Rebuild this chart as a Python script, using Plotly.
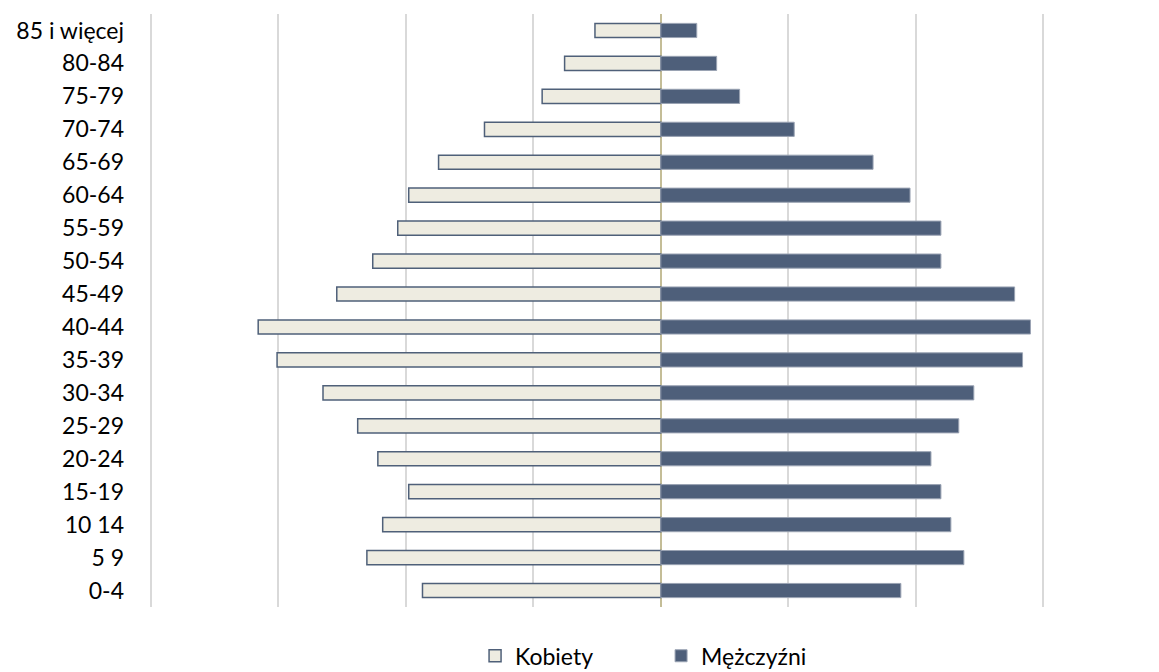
import plotly.graph_objects as go

age_groups = ["0-4", "5 9", "10 14", "15-19", "20-24", "25-29", "30-34", "35-39",
              "40-44", "45-49", "50-54", "55-59", "60-64", "65-69", "70-74",
              "75-79", "80-84", "85 i więcej"]
kobiety = [934, 1152, 1090, 988, 1109, 1188, 1324, 1504, 1578, 1270, 1129, 1031,
           988, 871, 691, 465, 377, 258]
mezczyzni = [941, 1188, 1137, 1098, 1059, 1168, 1227, 1418, 1449, 1387, 1098, 1098,
             977, 832, 523, 309, 219, 141]

FONT = "Lato"

fig = go.Figure()
fig.add_trace(go.Bar(
    y=age_groups, x=[-v for v in kobiety], orientation="h", name="Kobiety",
    marker=dict(color="#EEECE1", line=dict(color="#4F6079", width=1.5)),
    customdata=kobiety, hovertemplate="%{y}: %{customdata}<extra>Kobiety</extra>",
))
fig.add_trace(go.Bar(
    y=age_groups, x=mezczyzni, orientation="h", name="Mężczyźni",
    marker=dict(color="#4E5F7A", line=dict(color="#9AA3B3", width=1)),
    hovertemplate="%{y}: %{x}<extra>Mężczyźni</extra>",
))

fig.update_layout(
    width=1159, height=672,
    barmode="relative", bargap=0.57,
    plot_bgcolor="white", paper_bgcolor="white",
    margin=dict(l=141, r=122, t=6, b=73),
    font=dict(family=FONT, size=23, color="#000000"),
    xaxis=dict(range=[-2006, 1506], dtick=500, tick0=0, showticklabels=False,
               showgrid=True, gridcolor="#D9D9D9", gridwidth=1.5,
               zeroline=True, zerolinecolor="#C4BD97", zerolinewidth=2,
               fixedrange=True),
    yaxis=dict(categoryorder="array", categoryarray=age_groups, showgrid=False,
               ticks="", ticklabelstandoff=24, tickfont=dict(family=FONT, size=23),
               fixedrange=True),
    legend=dict(orientation="h", xref="paper", x=0.5715, xanchor="center",
                yref="container", y=0.036, yanchor="middle",
                font=dict(family=FONT, size=23), traceorder="normal",
                entrywidth=141, itemwidth=30),
    showlegend=True,
)

fig.write_html("out.html")
